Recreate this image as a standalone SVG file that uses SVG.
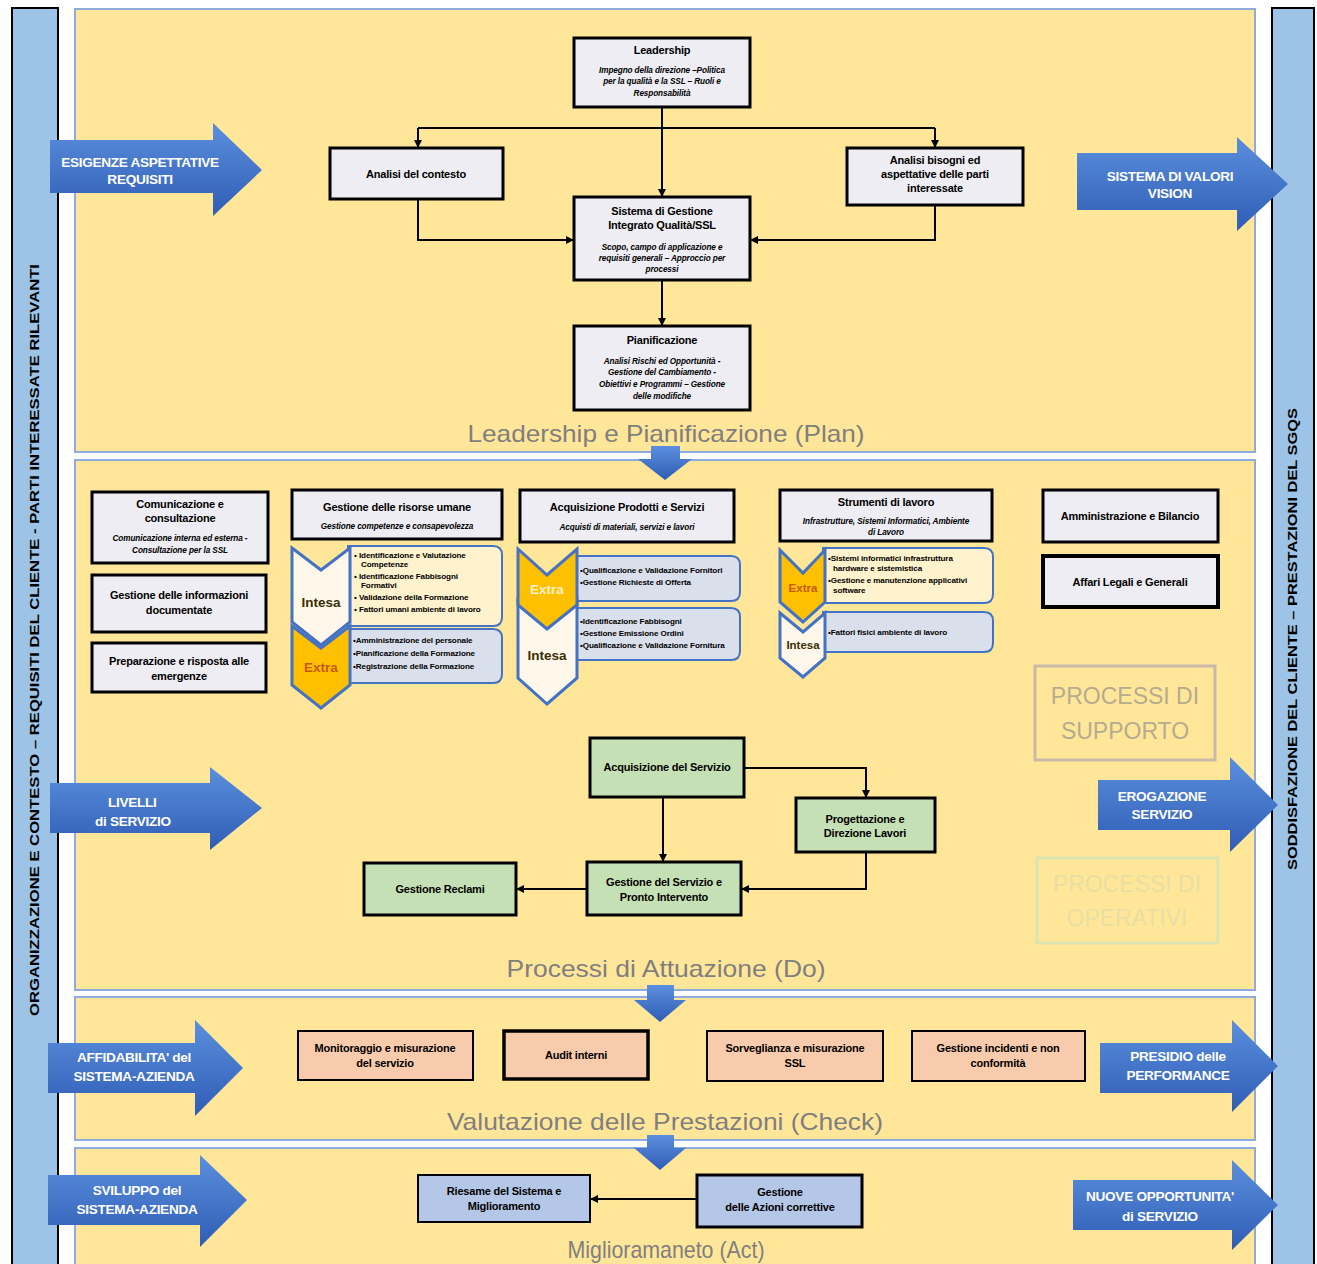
<svg xmlns="http://www.w3.org/2000/svg" width="1317" height="1264" viewBox="0 0 1317 1264">
<defs>
<linearGradient id="bg" x1="0" y1="0" x2="0" y2="1">
<stop offset="0" stop-color="#5B8FDD"/><stop offset="1" stop-color="#2F5DB5"/>
</linearGradient>
<marker id="ah" markerUnits="userSpaceOnUse" markerWidth="9" markerHeight="9" refX="7" refY="4.5" orient="auto">
<path d="M0,0.5 L8,4.5 L0,8.5 Z" fill="#000"/>
</marker>
<style>
.panel{fill:#FFE699;stroke:#8FAADC;stroke-width:2}
.bar{fill:#9DC3E6;stroke:#000;stroke-width:2}
.box{fill:#EDEDF3;stroke:#000;stroke-width:3}
.grn{fill:#C5E0B4;stroke:#000;stroke-width:3}
.sal{fill:#F8CBAD;stroke:#000;stroke-width:2}
.blu{fill:#B4C7E7;stroke:#000;stroke-width:2}
.t{font-family:"Liberation Sans",Arial,sans-serif;font-weight:bold;font-size:11px;text-anchor:middle;fill:#000;letter-spacing:-0.2px}
.s{font-family:"Liberation Sans",Arial,sans-serif;font-weight:bold;font-style:italic;font-size:8.2px;text-anchor:middle;fill:#000;letter-spacing:-0.1px}
.li{font-family:"Liberation Sans",Arial,sans-serif;font-weight:bold;font-size:8.1px;fill:#000;letter-spacing:-0.1px}
.sec{font-family:"Liberation Sans",Arial,sans-serif;font-size:24px;text-anchor:middle;fill:#7F7F7F}
.at{font-family:"Liberation Sans",Arial,sans-serif;font-weight:bold;font-size:13.6px;text-anchor:middle;fill:#fff;letter-spacing:-0.3px}
.vt{font-family:"Liberation Sans",Arial,sans-serif;font-weight:bold;font-size:13px;text-anchor:middle;fill:#000}
.arr{fill:url(#bg)}
.chi{fill:#FFF8EA;stroke:#4472C4;stroke-width:3}
.che{fill:#FFC000;stroke:#4472C4;stroke-width:3}
.lp1{fill:#FFF2CC;stroke:#4472C4;stroke-width:2}
.lp2{fill:#DADFEC;stroke:#4472C4;stroke-width:2}
.cl{font-family:"Liberation Sans",Arial,sans-serif;font-weight:bold;font-size:13.5px;text-anchor:middle}
.con{fill:none;stroke:#000;stroke-width:2}
.pl{font-family:"Liberation Sans",Arial,sans-serif;font-size:23px;text-anchor:middle}
</style>
</defs>
<rect width="1317" height="1264" fill="#fff"/>

<!-- side bars -->
<g id="left-bar">
<rect class="bar" x="12" y="8" width="46" height="1262"/>
<text class="vt" transform="translate(39,640) rotate(-90)" textLength="752" lengthAdjust="spacingAndGlyphs">ORGANIZZAZIONE E CONTESTO – REQUISITI DEL CLIENTE - PARTI INTERESSATE RILEVANTI</text>
</g>
<g id="right-bar">
<rect class="bar" x="1272" y="8" width="42" height="1262"/>
<text class="vt" transform="translate(1297,639) rotate(-90)" textLength="462" lengthAdjust="spacingAndGlyphs">SODDISFAZIONE DEL CLIENTE – PRESTAZIONI DEL SGQS</text>
</g>

<!-- panels -->
<g id="panel-plan"><rect class="panel" x="75" y="9" width="1180" height="443"/><text class="sec" x="666" y="442" textLength="397" lengthAdjust="spacingAndGlyphs">Leadership e Pianificazione (Plan)</text></g>
<g id="panel-do"><rect class="panel" x="75" y="460" width="1180" height="530"/><text class="sec" x="666" y="977" textLength="319" lengthAdjust="spacingAndGlyphs">Processi di Attuazione (Do)</text></g>
<g id="panel-check"><rect class="panel" x="75" y="997" width="1180" height="143"/><text class="sec" x="665" y="1130" textLength="436" lengthAdjust="spacingAndGlyphs">Valutazione delle Prestazioni (Check)</text></g>
<g id="panel-act"><rect class="panel" x="75" y="1148" width="1180" height="122"/><text class="sec" x="666" y="1258" textLength="197" lengthAdjust="spacingAndGlyphs">Miglioramaneto (Act)</text></g>

<!-- down arrows between panels -->
<g id="down-arrows">
<path class="arr" d="M651,446 H680 V459 H692 L665,480 L638,459 H651 Z"/>
<path class="arr" d="M647,985 H674 V1000 H686 L660,1022 L634,1000 H647 Z"/>
<path class="arr" d="M647,1135 H674 V1148 H686 L660,1170 L634,1148 H647 Z"/>
</g>

<!-- side arrows -->
<g id="arrow-esigenze"><path class="arr" d="M50,140 H213 V123 L262,170 L213,216 V193 H50 Z"/><text class="at" x="140" y="167">ESIGENZE ASPETTATIVE</text><text class="at" x="140" y="184">REQUISITI</text></g>
<g id="arrow-valori"><path class="arr" d="M1077,153 H1237 V137 L1288,184 L1237,231 V210 H1077 Z"/><text class="at" x="1170" y="181">SISTEMA DI VALORI</text><text class="at" x="1170" y="198">VISION</text></g>
<g id="arrow-livelli"><path class="arr" d="M50,783 H210 V767 L262,808 L210,850 V833 H50 Z"/><text class="at" x="108" y="807" style="text-anchor:start">LIVELLI</text><text class="at" x="95" y="826" style="text-anchor:start">di SERVIZIO</text></g>
<g id="arrow-erogazione"><path class="arr" d="M1098,780 H1230 V757 L1278,805 L1230,852 V830 H1098 Z"/><text class="at" x="1162" y="801">EROGAZIONE</text><text class="at" x="1162" y="819">SERVIZIO</text></g>
<g id="arrow-affidabilita"><path class="arr" d="M48,1043 H195 V1020 L243,1068 L195,1116 V1093 H48 Z"/><text class="at" x="134" y="1062">AFFIDABILITA' del</text><text class="at" x="134" y="1081">SISTEMA-AZIENDA</text></g>
<g id="arrow-presidio"><path class="arr" d="M1100,1043 H1232 V1020 L1278,1066 L1232,1112 V1093 H1100 Z"/><text class="at" x="1178" y="1061">PRESIDIO delle</text><text class="at" x="1178" y="1080">PERFORMANCE</text></g>
<g id="arrow-sviluppo"><path class="arr" d="M48,1175 H200 V1155 L247,1200 L200,1247 V1225 H48 Z"/><text class="at" x="137" y="1195">SVILUPPO  del</text><text class="at" x="137" y="1214">SISTEMA-AZIENDA</text></g>
<g id="arrow-opportunita"><path class="arr" d="M1073,1180 H1232 V1160 L1278,1205 L1232,1250 V1230 H1073 Z"/><text class="at" x="1160" y="1201">NUOVE OPPORTUNITA'</text><text class="at" x="1160" y="1221">di SERVIZIO</text></g>

<!-- connectors -->
<g id="connectors">
<path class="con" d="M662,107 V128"/>
<path class="con" d="M418,128 H935"/>
<path class="con" d="M418,128 V147" marker-end="url(#ah)"/>
<path class="con" d="M935,128 V147" marker-end="url(#ah)"/>
<path class="con" d="M662,128 V196" marker-end="url(#ah)"/>
<path class="con" d="M418,199 V240 H573" marker-end="url(#ah)"/>
<path class="con" d="M935,205 V240 H751" marker-end="url(#ah)"/>
<path class="con" d="M662,280 V325" marker-end="url(#ah)"/>
<path class="con" d="M744,768 H866 V797" marker-end="url(#ah)"/>
<path class="con" d="M663,797 V861" marker-end="url(#ah)"/>
<path class="con" d="M866,852 V889 H742" marker-end="url(#ah)"/>
<path class="con" d="M587,889 H517" marker-end="url(#ah)"/>
<path class="con" d="M697,1199 H591" marker-end="url(#ah)"/>
</g>

<!-- Plan nodes -->
<g id="n-leadership"><rect class="box" x="574" y="38" width="176" height="69"/>
<text class="t" x="662" y="54">Leadership</text>
<text class="s" x="662" y="73">Impegno della direzione –Politica</text>
<text class="s" x="662" y="84">per la qualità e la SSL  – Ruoli e</text>
<text class="s" x="662" y="96">Responsabilità</text></g>
<g id="n-contesto"><rect class="box" x="330" y="148" width="173" height="51"/><text class="t" x="416" y="178">Analisi del contesto</text></g>
<g id="n-bisogni"><rect class="box" x="847" y="148" width="176" height="57"/><text class="t" x="935" y="164">Analisi bisogni ed</text><text class="t" x="935" y="178">aspettative delle parti</text><text class="t" x="935" y="192">interessate</text></g>
<g id="n-sistema"><rect class="box" x="574" y="197" width="176" height="83"/>
<text class="t" x="662" y="215">Sistema di Gestione</text><text class="t" x="662" y="229">Integrato Qualità/SSL</text>
<text class="s" x="662" y="250">Scopo, campo di applicazione e</text><text class="s" x="662" y="261">requisiti generali – Approccio per</text><text class="s" x="662" y="272">processi</text></g>
<g id="n-pianificazione"><rect class="box" x="574" y="326" width="176" height="84"/>
<text class="t" x="662" y="344">Pianificazione</text>
<text class="s" x="662" y="364">Analisi Rischi ed Opportunità -</text><text class="s" x="662" y="375">Gestione del Cambiamento -</text><text class="s" x="662" y="387">Obiettivi e Programmi – Gestione</text><text class="s" x="662" y="399">delle modifiche</text></g>

<!-- Do: support -->
<g id="n-comunicazione"><rect class="box" x="92" y="492" width="176" height="71"/>
<text class="t" x="180" y="508">Comunicazione e</text><text class="t" x="180" y="522">consultazione</text>
<text class="s" x="180" y="541">Comunicazione interna ed  esterna -</text><text class="s" x="180" y="553">Consultazione per la SSL</text></g>
<g id="n-informazioni"><rect class="box" x="92" y="575" width="174" height="57"/><text class="t" x="179" y="599">Gestione delle informazioni</text><text class="t" x="179" y="614">documentate</text></g>
<g id="n-emergenze"><rect class="box" x="92" y="643" width="174" height="49"/><text class="t" x="179" y="665">Preparazione e risposta alle</text><text class="t" x="179" y="680">emergenze</text></g>

<g id="n-risorse"><rect class="box" x="292" y="490" width="210" height="49"/><text class="t" x="397" y="511">Gestione delle risorse umane</text><text class="s" x="397" y="529">Gestione competenze e consapevolezza</text></g>
<g id="risorse-lists">
<path class="lp1" d="M348,546 H493 Q502,546 502,555 V617 Q502,626 493,626 H348 Z"/>
<path class="lp2" d="M348,629 H493 Q502,629 502,638 V674 Q502,683 493,683 H348 Z"/>
<polygon class="chi" points="292,548 321,570 350,548 350,622 321,645 292,622"/>
<text class="cl" x="321" y="607" fill="#3A2E05">Intesa</text>
<polygon class="che" points="292,626 321,648 350,626 350,685 321,708 292,685"/>
<text class="cl" x="321" y="672" fill="#C55A11">Extra</text>
<text class="li" x="354" y="558">• Identificazione e Valutazione</text>
<text class="li" x="361" y="567">Competenze</text>
<text class="li" x="354" y="579">• Identificazione Fabbisogni</text>
<text class="li" x="361" y="588">Formativi</text>
<text class="li" x="354" y="600">• Validazione della Formazione</text>
<text class="li" x="354" y="612">• Fattori umani ambiente di lavoro</text>
<text class="li" x="353" y="643">•Amministrazione del personale</text>
<text class="li" x="353" y="656">•Pianificazione della Formazione</text>
<text class="li" x="353" y="669">•Registrazione della Formazione</text>
</g>

<g id="n-acquisizione-prodotti"><rect class="box" x="520" y="490" width="214" height="52"/><text class="t" x="627" y="511">Acquisizione Prodotti e Servizi</text><text class="s" x="627" y="530">Acquisti di materiali, servizi e lavori</text></g>
<g id="acquisti-lists">
<path class="lp2" d="M575,556 H731 Q740,556 740,565 V592 Q740,601 731,601 H575 Z"/>
<path class="lp2" d="M575,608 H731 Q740,608 740,617 V651 Q740,660 731,660 H575 Z"/>
<polygon class="chi" points="518,600 547,626 577,600 577,678 547,704 518,678"/>
<text class="cl" x="547" y="660" fill="#3A2E05">Intesa</text>
<polygon class="che" points="518,549 547,575 577,549 577,605 547,629 518,605"/>
<text class="cl" x="547" y="594" fill="#FFF2CC">Extra</text>
<text class="li" x="580" y="573">•Qualificazione e Validazione Fornitori</text>
<text class="li" x="580" y="585">•Gestione Richieste di Offerta</text>
<text class="li" x="580" y="624">•Identificazione Fabbisogni</text>
<text class="li" x="580" y="636">•Gestione Emissione Ordini</text>
<text class="li" x="580" y="648">•Qualificazione e Validazione Fornitura</text>
</g>

<g id="n-strumenti"><rect class="box" x="780" y="490" width="212" height="51"/><text class="t" x="886" y="506">Strumenti di lavoro</text><text class="s" x="886" y="524">Infrastrutture, Sistemi Informatici, Ambiente</text><text class="s" x="886" y="535">di Lavoro</text></g>
<g id="strumenti-lists">
<path class="lp1" d="M823,548 H984 Q993,548 993,557 V594 Q993,603 984,603 H823 Z"/>
<path class="lp2" d="M823,612 H984 Q993,612 993,621 V643 Q993,652 984,652 H823 Z"/>
<polygon class="chi" points="780,613 803,632 825,613 825,658 803,677 780,658"/>
<text class="cl" x="803" y="649" fill="#3A2E05" style="font-size:11.5px">Intesa</text>
<polygon class="che" points="780,550 803,573 825,550 825,602 803,622 780,602"/>
<text class="cl" x="803" y="592" fill="#C55A11" style="font-size:11.5px">Extra</text>
<text class="li" x="828" y="561">•Sistemi informatici infrastruttura</text>
<text class="li" x="833" y="571">hardware e sistemistica</text>
<text class="li" x="828" y="583">•Gestione e manutenzione applicativi</text>
<text class="li" x="833" y="593">software</text>
<text class="li" x="828" y="635">•Fattori fisici ambiente di lavoro</text>
</g>

<g id="n-amministrazione"><rect class="box" x="1043" y="490" width="175" height="52"/><text class="t" x="1130" y="520">Amministrazione e Bilancio</text></g>
<g id="n-affari"><rect class="box" x="1043" y="556" width="175" height="51" style="stroke-width:4"/><text class="t" x="1130" y="586">Affari Legali e Generali</text></g>

<g id="lbl-supporto"><rect x="1035" y="666" width="180" height="94" fill="none" stroke="#C9B9A8" stroke-width="3"/>
<text class="pl" x="1125" y="704" fill="#B6AB8F">PROCESSI DI</text>
<text class="pl" x="1125" y="739" fill="#B6AB8F">SUPPORTO</text></g>
<g id="lbl-operativi"><rect x="1037" y="858" width="181" height="85" fill="none" stroke="#D9E4B2" stroke-width="3"/>
<text class="pl" x="1127" y="892" fill="#EADFA3">PROCESSI DI</text>
<text class="pl" x="1127" y="926" fill="#EADFA3">OPERATIVI</text></g>

<!-- Do: operational -->
<g id="n-acq-servizio"><rect class="grn" x="590" y="738" width="154" height="59"/><text class="t" x="667" y="771">Acquisizione del Servizio</text></g>
<g id="n-progettazione"><rect class="grn" x="796" y="798" width="139" height="54"/><text class="t" x="865" y="823">Progettazione e</text><text class="t" x="865" y="837">Direzione Lavori</text></g>
<g id="n-gestione-servizio"><rect class="grn" x="587" y="862" width="154" height="53"/><text class="t" x="664" y="886">Gestione del Servizio e</text><text class="t" x="664" y="901">Pronto Intervento</text></g>
<g id="n-reclami"><rect class="grn" x="364" y="863" width="152" height="52"/><text class="t" x="440" y="893">Gestione Reclami</text></g>

<!-- Check -->
<g id="n-monitoraggio"><rect class="sal" x="298" y="1031" width="175" height="49"/><text class="t" x="385" y="1052">Monitoraggio e misurazione</text><text class="t" x="385" y="1067">del servizio</text></g>
<g id="n-audit"><rect class="sal" x="504" y="1031" width="144" height="48" style="stroke-width:3.5"/><text class="t" x="576" y="1059">Audit interni</text></g>
<g id="n-sorveglianza"><rect class="sal" x="707" y="1031" width="176" height="50"/><text class="t" x="795" y="1052">Sorveglianza e misurazione</text><text class="t" x="795" y="1067">SSL</text></g>
<g id="n-incidenti"><rect class="sal" x="912" y="1031" width="173" height="50"/><text class="t" x="998" y="1052">Gestione incidenti e non</text><text class="t" x="998" y="1067">conformità</text></g>

<!-- Act -->
<g id="n-riesame"><rect class="blu" x="418" y="1175" width="172" height="47"/><text class="t" x="504" y="1195">Riesame del Sistema e</text><text class="t" x="504" y="1210">Miglioramento</text></g>
<g id="n-azioni"><rect class="blu" x="697" y="1175" width="165" height="52" style="stroke-width:3"/><text class="t" x="780" y="1196">Gestione</text><text class="t" x="780" y="1211">delle Azioni correttive</text></g>
</svg>
